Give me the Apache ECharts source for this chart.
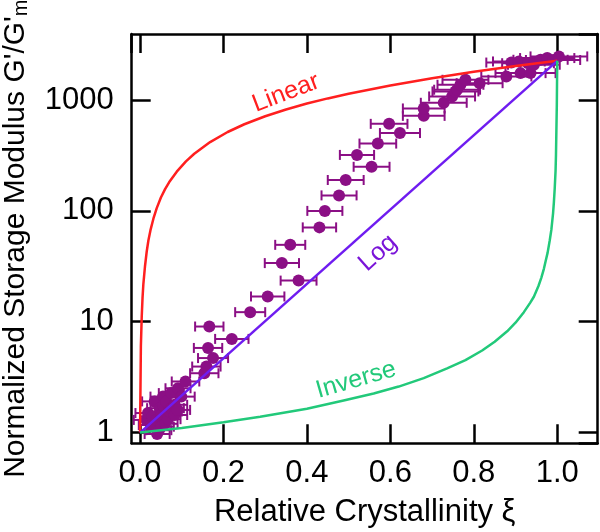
<!DOCTYPE html>
<html>
<head>
<meta charset="utf-8">
<script src="https://cdn.jsdelivr.net/npm/echarts@6/dist/echarts.min.js"></script>
<style>
  html, body { margin: 0; padding: 0; background: #fff; }
  #chart { width: 600px; height: 532px; }
</style>
</head>
<body>
<div id="chart"></div>
<script>
// measured points: relative crystallinity, normalized modulus, x error
const xiData = [
  0.015, 0.019, 0.027, 0.030, 0.035, 0.039, 0.041, 0.045, 0.047, 0.051, 0.051, 0.055, 0.055,
  0.060, 0.063, 0.067, 0.070, 0.075, 0.075, 0.083, 0.083, 0.090, 0.091, 0.099, 0.109,
  0.154, 0.159, 0.163, 0.166, 0.175, 0.220, 0.264, 0.306, 0.340, 0.360, 0.380,
  0.430, 0.443, 0.477, 0.493, 0.520, 0.555, 0.570, 0.597, 0.623, 0.680, 0.680,
  0.728, 0.748, 0.756, 0.760, 0.768, 0.780, 0.814, 0.878, 0.912, 0.936, 0.890,
  0.908, 0.930, 0.944, 0.960, 0.976, 0.990, 1.004
];
const gData = [
  1.30, 1.50, 1.17, 1.40, 1.91, 1.30, 0.97, 1.05, 1.66, 1.44, 1.13, 2.11, 1.75,
  1.20, 1.91, 1.32, 1.55, 1.66, 2.27, 1.44, 1.78, 1.60, 2.51, 2.11, 2.89,
  3.43, 3.94, 5.8, 9.05, 4.7, 7.0, 12.2, 16.9, 33.8, 49.4, 23.5,
  71, 100, 138, 190, 320, 250, 405, 610, 504, 720, 840,
  945, 1078, 1196, 1240, 1374, 1524, 1420, 1633, 1750, 1750, 2180,
  2230, 2150, 2083, 2310, 2393, 2300, 2476
];
const xiErr = [
  0.030, 0.030, 0.030, 0.030, 0.030, 0.030, 0.030, 0.030, 0.030, 0.030, 0.030, 0.030, 0.030,
  0.030, 0.030, 0.030, 0.030, 0.030, 0.030, 0.030, 0.030, 0.030, 0.030, 0.032, 0.033,
  0.034, 0.034, 0.034, 0.034, 0.036, 0.040, 0.036, 0.040, 0.041, 0.036, 0.043,
  0.040, 0.042, 0.042, 0.043, 0.041, 0.043, 0.044, 0.044, 0.048, 0.050, 0.050,
  0.055, 0.055, 0.055, 0.055, 0.055, 0.055, 0.055, 0.060, 0.060, 0.060, 0.060,
  0.062, 0.062, 0.062, 0.065, 0.065, 0.065, 0.068
];

// model curves
const linearXi = [0, 0.002, 0.004, 0.006, 0.008, 0.012, 0.016, 0.02, 0.025, 0.032, 0.04, 0.05, 0.06, 0.07,
  0.088, 0.11, 0.13, 0.168, 0.21, 0.25, 0.3, 0.35, 0.4, 0.45, 0.5, 0.6, 0.7, 0.8, 0.9, 1.0];
const linearG = [1, 6, 11, 16.5, 22, 32, 43, 54, 67, 85, 106, 132, 157, 182,
  226, 280, 328, 418, 515, 605, 715, 822, 930, 1035, 1140, 1355, 1570, 1800, 2030, 2260];
const logXi = [0, 1.0];
const logG = [1, 2260];
const inverseXi = [0, 0.1, 0.2, 0.288, 0.4, 0.488, 0.56, 0.62, 0.68, 0.736, 0.78, 0.82, 0.85, 0.88, 0.9, 0.92,
  0.935, 0.944, 0.955, 0.962, 0.968, 0.972, 0.977, 0.982, 0.986, 0.99, 0.992, 0.994, 0.996, 0.997, 0.999, 1.0];
const inverseG = [1, 1.1, 1.24, 1.39, 1.64, 1.95, 2.25, 2.6, 3.1, 3.8, 4.5, 5.5, 6.6, 8.2, 9.8, 12.2,
  14.8, 16.8, 21, 25, 30, 35, 42, 54, 68, 95, 120, 160, 230, 320, 900, 2260];

const xTicks = ['0.0', '0.2', '0.4', '0.6', '0.8', '1.0'];

const FONT = 'Liberation Sans';
const PURPLE = '#8b0f85';
const RED = '#ff1f1f';
const BLUE = '#6f1cf0';
const GREEN = '#22c97a';

const points = xiData.map((x, i) => [x, gData[i], xiErr[i]]);
const pairs = (xs, ys) => xs.map((x, i) => [x, ys[i]]);

const frameLine = { show: true, onZero: false, lineStyle: { color: '#000', width: 2.5 } };
const frameTick = { show: true, inside: true, length: 19, lineStyle: { color: '#000', width: 2.5 } };

const chart = echarts.init(document.getElementById('chart'));

const option = {
  animation: false,
  backgroundColor: '#fff',
  grid: { left: 131.7, right: 2.3, top: 34, bottom: 88.7, containLabel: false, outerBoundsMode: 'none' },
  xAxis: [
    {
      type: 'value', min: -0.02, max: 1.097, position: 'bottom',
      axisLine: frameLine, axisTick: frameTick, splitLine: { show: false },
      axisLabel: {
        fontFamily: FONT, fontSize: 31, color: '#000', margin: 15,
        showMinLabel: false, showMaxLabel: false,
        formatter: v => xTicks.find(t => Math.abs(parseFloat(t) - v) < 1e-6) || ''
      },
      name: 'Relative Crystallinity ξ', nameLocation: 'middle', nameGap: 54,
      nameTextStyle: { fontFamily: FONT, fontSize: 31, color: '#000' }
    },
    {
      type: 'value', min: -0.02, max: 1.097, position: 'top',
      axisLine: frameLine, axisTick: frameTick, splitLine: { show: false },
      axisLabel: { show: false }
    }
  ],
  yAxis: [
    {
      type: 'log', logBase: 10, min: 0.8, max: 3945, position: 'left',
      axisLine: frameLine, axisTick: frameTick, splitLine: { show: false },
      minorTick: { show: false },
      axisLabel: {
        fontFamily: FONT, fontSize: 31, color: '#000', margin: 18,
        showMinLabel: false, showMaxLabel: false,
        formatter: v => String(Math.round(v))
      },
      name: "{a|Normalized Storage Modulus G'/G'}{s|m}", nameLocation: 'middle', nameGap: 100,
      nameTextStyle: {
        fontFamily: FONT, fontSize: 30, color: '#000',
        rich: {
          a: { fontFamily: FONT, fontSize: 30, color: '#000' },
          s: { fontFamily: FONT, fontSize: 20, color: '#000', verticalAlign: 'bottom', padding: [12, 0, 0, 0] }
        }
      }
    },
    {
      type: 'log', logBase: 10, min: 0.8, max: 3945, position: 'right',
      axisLine: frameLine, axisTick: frameTick, splitLine: { show: false },
      axisLabel: { show: false }
    }
  ],
  series: [
    {
      type: 'custom', name: 'error',
      clip: false,
      data: points,
      encode: { x: 0, y: 1 },
      z: 2,
      renderItem: (params, api) => {
        const x = api.value(0), y = api.value(1), e = api.value(2);
        const l = api.coord([x - e, y]);
        const r = api.coord([x + e, y]);
        const h = 5;
        const st = { stroke: PURPLE, lineWidth: 2 };
        return {
          type: 'group',
          children: [
            { type: 'line', shape: { x1: l[0], y1: l[1], x2: r[0], y2: r[1] }, style: st },
            { type: 'line', shape: { x1: l[0], y1: l[1] - h, x2: l[0], y2: l[1] + h }, style: st },
            { type: 'line', shape: { x1: r[0], y1: r[1] - h, x2: r[0], y2: r[1] + h }, style: st }
          ]
        };
      }
    },
    {
      type: 'scatter', name: 'data',
      data: points.map(p => [p[0], p[1]]),
      symbol: 'circle', symbolSize: 12,
      itemStyle: { color: PURPLE, opacity: 1 },
      z: 3
    },
    {
      type: 'line', name: 'Linear', data: pairs(linearXi, linearG),
      showSymbol: false, lineStyle: { color: RED, width: 2.5 }, z: 4
    },
    {
      type: 'line', name: 'Log', data: pairs(logXi, logG),
      showSymbol: false, lineStyle: { color: BLUE, width: 2.5 }, z: 4
    },
    {
      type: 'line', name: 'Inverse', data: pairs(inverseXi, inverseG),
      showSymbol: false, lineStyle: { color: GREEN, width: 2.5 }, z: 4
    }
  ],
  graphic: [
    {
      type: 'text', x: 286, y: 93, rotation: 21 * Math.PI / 180,
      style: { text: 'Linear', fontFamily: FONT, fontSize: 25, fill: RED, align: 'center', verticalAlign: 'middle' }
    },
    {
      type: 'text', x: 378, y: 253, rotation: 42 * Math.PI / 180,
      style: { text: 'Log', fontFamily: FONT, fontSize: 25, fill: '#7a14d8', align: 'center', verticalAlign: 'middle' }
    },
    {
      type: 'text', x: 356, y: 380, rotation: 16 * Math.PI / 180,
      style: { text: 'Inverse', fontFamily: FONT, fontSize: 25, fill: GREEN, align: 'center', verticalAlign: 'middle' }
    }
  ]
};

chart.setOption(option);
</script>
</body>
</html>
